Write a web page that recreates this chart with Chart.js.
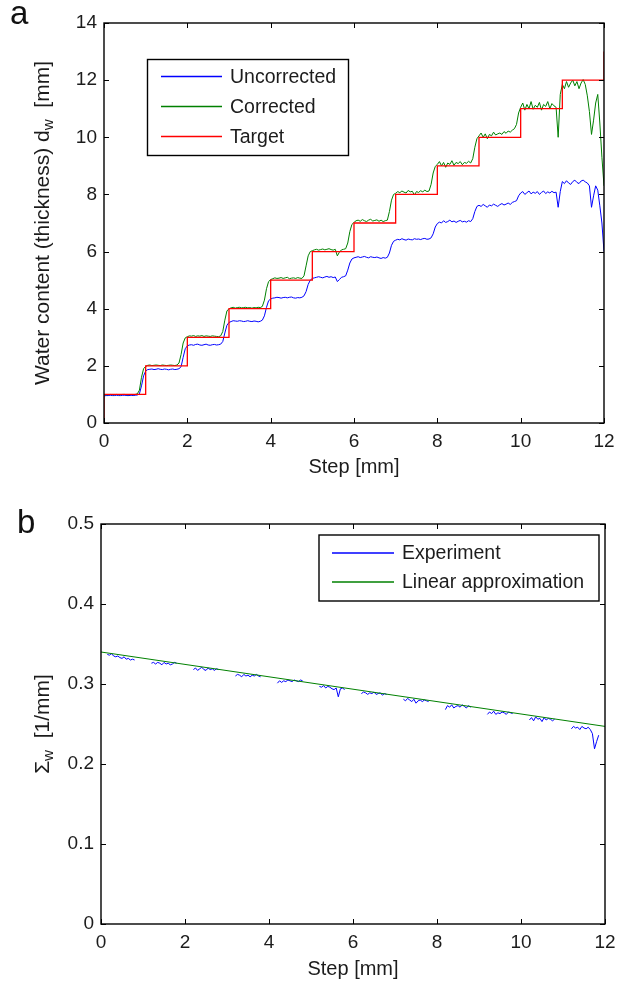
<!DOCTYPE html>
<html>
<head>
<meta charset="utf-8">
<title>Water content and attenuation vs step</title>
<script src="https://cdn.jsdelivr.net/npm/chart.js@4.4.1/dist/chart.umd.min.js"></script>
<style>
  body { margin: 0; background: #fff; }
  #wrap { position: relative; width: 639px; height: 981px; }
  canvas { position: absolute; left: 0; }
  #thicknessChart { top: 0; }
  #sigmaChart { top: 490px; }
</style>
</head>
<body>
<div id="wrap">
  <canvas id="thicknessChart" width="639" height="490"></canvas>
  <canvas id="sigmaChart" width="639" height="491"></canvas>
</div>
<script>
const FONT = '"Liberation Sans", Arial, Helvetica, sans-serif';
const TEXT = "#1c1c1c";

// sample positions along the step axis [mm], shared by the measured curves
const stepMm = [
  0,0.05,0.1,0.15,0.2,0.25,0.3,0.35,0.4,0.45,0.5,0.55,0.6,0.65,0.7,0.75,0.8,0.85,0.9,0.95,
  1,1.05,1.1,1.15,1.2,1.25,1.3,1.35,1.4,1.45,1.5,1.55,1.6,1.65,1.7,1.75,1.8,1.85,1.9,1.95,
  2,2.05,2.1,2.15,2.2,2.25,2.3,2.35,2.4,2.45,2.5,2.55,2.6,2.65,2.7,2.75,2.8,2.85,2.9,2.95,
  3,3.05,3.1,3.15,3.2,3.25,3.3,3.35,3.4,3.45,3.5,3.55,3.6,3.65,3.7,3.75,3.8,3.85,3.9,3.95,
  4,4.05,4.1,4.15,4.2,4.25,4.3,4.35,4.4,4.45,4.5,4.55,4.6,4.65,4.7,4.75,4.8,4.85,4.9,4.95,
  5,5.05,5.1,5.15,5.2,5.25,5.3,5.35,5.4,5.45,5.5,5.55,5.6,5.65,5.7,5.75,5.8,5.85,5.9,5.95,
  6,6.05,6.1,6.15,6.2,6.25,6.3,6.35,6.4,6.45,6.5,6.55,6.6,6.65,6.7,6.75,6.8,6.85,6.9,6.95,
  7,7.05,7.1,7.15,7.2,7.25,7.3,7.35,7.4,7.45,7.5,7.55,7.6,7.65,7.7,7.75,7.8,7.85,7.9,7.95,
  8,8.05,8.1,8.15,8.2,8.25,8.3,8.35,8.4,8.45,8.5,8.55,8.6,8.65,8.7,8.75,8.8,8.85,8.9,8.95,
  9,9.05,9.1,9.15,9.2,9.25,9.3,9.35,9.4,9.45,9.5,9.55,9.6,9.65,9.7,9.75,9.8,9.85,9.9,9.95,
  10,10.05,10.1,10.15,10.2,10.25,10.3,10.35,10.4,10.45,10.5,10.55,10.6,10.65,10.7,10.75,10.8,10.85,10.9,10.95,
  11,11.05,11.1,11.15,11.2,11.25,11.3,11.35,11.4,11.45,11.5,11.55,11.6,11.65,11.7,11.75,11.8,11.85,11.9,11.95,
  12
];

// water thickness d_w [mm]
const uncorrected = [
  0.95,0.96,0.96,0.97,0.96,0.96,0.97,0.96,0.96,0.97,0.97,0.96,0.96,0.97,0.96,0.97,0.98,1.02,1.3,1.65,
  1.82,1.87,1.88,1.89,1.87,1.88,1.9,1.88,1.87,1.89,1.88,1.86,1.88,1.89,1.87,1.88,1.9,1.97,2.3,2.6,
  2.7,2.73,2.74,2.72,2.75,2.76,2.73,2.72,2.74,2.76,2.73,2.72,2.74,2.75,2.73,2.74,2.76,2.85,3.15,3.42,
  3.52,3.55,3.58,3.57,3.56,3.58,3.57,3.55,3.56,3.58,3.56,3.55,3.57,3.56,3.54,3.56,3.6,3.75,4.05,4.28,
  4.34,4.37,4.38,4.4,4.39,4.37,4.39,4.4,4.38,4.4,4.41,4.38,4.37,4.39,4.38,4.4,4.45,4.6,4.85,5.0,
  5.06,5.08,5.1,5.12,5.1,5.08,5.11,5.13,5.1,5.12,5.09,5.11,4.95,5.02,5.1,5.12,5.15,5.35,5.6,5.74,
  5.78,5.8,5.82,5.79,5.81,5.83,5.8,5.78,5.82,5.8,5.79,5.81,5.78,5.76,5.79,5.77,5.8,5.95,6.22,6.36,
  6.4,6.43,6.41,6.45,6.42,6.4,6.44,6.42,6.41,6.45,6.43,6.44,6.42,6.45,6.46,6.43,6.44,6.48,6.62,6.86,
  6.98,7.03,7.0,7.08,7.02,7.05,7.1,7.04,7.07,7.02,7.06,7.09,7.04,7.06,7.03,7.08,7.05,7.15,7.4,7.58,
  7.62,7.58,7.65,7.6,7.55,7.63,7.6,7.66,7.62,7.58,7.64,7.68,7.63,7.66,7.7,7.65,7.72,7.75,7.78,7.95,
  8.05,8.1,8.0,8.06,8.12,8.02,8.08,8.04,8.1,8.0,8.07,8.12,8.03,8.09,8.05,8.11,8.06,8.08,7.55,8.1,
  8.45,8.38,8.48,8.4,8.35,8.45,8.5,8.42,8.38,8.47,8.5,8.44,8.4,8.3,7.55,7.95,8.3,8.15,7.6,7.0,
  6.0
];
const corrected = [
  0.98,0.99,0.99,1.0,0.99,0.99,1.0,0.99,0.99,1.0,1.0,0.99,0.99,1.0,0.99,1.0,1.02,1.15,1.6,1.9,
  1.98,2.02,2.03,2.01,2.02,2.03,2.02,2.01,2.03,2.02,2.01,2.02,2.03,2.02,2.01,2.03,2.1,2.4,2.8,2.98,
  3.02,3.05,3.04,3.06,3.03,3.05,3.04,3.06,3.03,3.05,3.04,3.03,3.05,3.04,3.03,3.02,3.05,3.2,3.6,3.92,
  4.0,4.03,4.05,4.02,4.04,4.05,4.03,4.04,4.05,4.03,4.04,4.02,4.04,4.03,4.05,4.04,4.08,4.3,4.7,4.95,
  5.02,5.05,5.08,5.06,5.07,5.09,5.06,5.08,5.1,5.05,5.07,5.08,5.06,5.09,5.07,5.06,5.15,5.5,5.85,6.0,
  6.03,6.06,6.08,6.05,6.07,6.09,6.06,6.08,6.1,6.07,6.05,6.08,5.85,5.98,6.06,6.08,6.1,6.3,6.7,6.95,
  7.02,7.08,7.1,7.06,7.12,7.08,7.05,7.1,7.13,7.07,7.09,7.11,7.06,7.1,7.05,7.08,7.1,7.4,7.8,8.0,
  8.04,8.1,8.06,8.12,8.08,8.05,8.14,8.09,8.11,7.98,8.1,8.07,8.13,8.09,8.15,8.1,8.12,8.35,8.75,8.98,
  9.05,9.15,9.0,9.12,8.95,9.1,9.05,9.18,9.02,9.12,9.08,9.15,9.04,9.12,9.09,9.16,9.1,9.25,9.65,9.95,
  10.05,10.15,10.0,10.12,9.95,10.1,10.05,10.18,10.08,10.12,10.15,10.1,10.2,10.14,10.22,10.18,10.25,10.3,10.45,10.85,
  11.05,11.2,10.95,11.15,11.0,11.25,10.98,11.12,11.05,11.22,10.95,11.15,11.08,11.25,11.0,11.18,11.1,11.05,10.0,11.5,
  11.85,11.7,11.95,11.75,11.9,12.0,11.8,11.95,11.7,11.9,12.02,11.85,11.45,10.9,10.1,10.6,11.2,11.5,10.5,9.3,
  8.3
];
// target thickness: value k+1 on [k, k+1)
const targetX = [0, 0, 1, 2, 3, 4, 5, 6, 7, 8, 9, 10, 11, 12];
const targetY = [0, 1, 2, 3, 4, 5, 6, 7, 8, 9, 10, 11, 12, 13];

// macroscopic cross section Sigma_w [1/mm], measured only on the plateaus
const sigmaExperiment = [
  null,null,null,0.337,0.336,0.338,0.335,0.334,0.335,0.333,0.332,0.334,0.331,0.332,0.33,0.331,0.33,null,null,null,
  null,null,null,null,0.326,0.327,0.325,0.327,0.326,0.324,0.327,0.325,0.326,0.324,0.325,0.327,0.326,null,null,null,
  null,null,null,null,0.318,0.32,0.317,0.319,0.321,0.318,0.317,0.32,0.318,0.319,0.317,0.319,0.318,null,null,null,
  null,null,null,null,0.31,0.312,0.311,0.309,0.312,0.31,0.311,0.309,0.311,0.31,0.312,0.31,0.309,null,null,null,
  null,null,null,null,0.301,0.304,0.302,0.304,0.303,0.305,0.304,0.303,0.305,0.304,0.303,0.305,0.304,null,null,null,
  null,null,null,null,0.297,0.296,0.298,0.295,0.297,0.296,0.294,0.293,0.295,0.284,0.294,0.295,0.293,null,null,null,
  null,null,null,null,0.288,0.29,0.289,0.287,0.289,0.288,0.29,0.287,0.288,0.289,0.286,0.288,0.287,null,null,null,
  null,null,null,null,0.281,0.279,0.282,0.28,0.278,0.281,0.276,0.279,0.28,0.278,0.28,0.279,0.278,null,null,null,
  null,null,null,null,0.268,0.273,0.271,0.274,0.27,0.272,0.273,0.271,0.274,0.272,0.27,0.273,0.271,null,null,null,
  null,null,null,null,0.262,0.265,0.263,0.266,0.262,0.264,0.263,0.265,0.264,0.262,0.265,0.264,0.263,null,null,null,
  null,null,null,null,0.255,0.258,0.254,0.259,0.256,0.257,0.253,0.258,0.255,0.257,0.256,0.254,0.256,null,null,null,
  null,null,null,null,0.244,0.247,0.245,0.246,0.243,0.247,0.245,0.244,0.246,0.243,0.238,0.219,0.228,0.236,null,null,
  null
];
const linearX = [0, 12];
const linearY = [0.34, 0.247];

// tick values
const stepTicks = [0, 2, 4, 6, 8, 10, 12];
const thicknessTicks = [0, 2, 4, 6, 8, 10, 12, 14];
const sigmaTicks = [0, 0.1, 0.2, 0.3, 0.4, 0.5];

const pairs = (xs, ys) => xs.map((x, i) => ({ x: x, y: ys[i] }));

function line(label, color, data, order, extra) {
  return Object.assign({
    label: label, data: data, borderColor: color, backgroundColor: color,
    borderWidth: 1, pointRadius: 0, tension: 0, fill: false, order: order
  }, extra || {});
}

function axes(yTicks, yMax, yWidth, xHeight) {
  const tickFont = { family: FONT, size: 19 };
  return {
    x: {
      type: "linear", min: 0, max: 12,
      afterBuildTicks: s => { s.ticks = stepTicks.map(v => ({ value: v })); },
      afterFit: s => { s.height = xHeight; s.paddingLeft = 0; s.paddingRight = 0; },
      grid: { display: false, drawTicks: false },
      border: { display: false },
      ticks: { color: TEXT, font: tickFont, padding: 7, maxRotation: 0, callback: v => String(v) }
    },
    y: {
      type: "linear", min: 0, max: yMax,
      afterBuildTicks: s => { s.ticks = yTicks.map(v => ({ value: v })); },
      afterFit: s => { s.width = yWidth; s.paddingTop = 0; s.paddingBottom = 0; },
      grid: { display: false, drawTicks: false },
      border: { display: false },
      ticks: { color: TEXT, font: tickFont, padding: 7, callback: v => String(v) }
    }
  };
}

// draws the rotated y title piece by piece so the subscript can drop down
function rotatedTitle(ctx, cx, cy, parts, size) {
  ctx.save();
  ctx.translate(cx, cy);
  ctx.rotate(-Math.PI / 2);
  ctx.textBaseline = "middle";
  ctx.textAlign = "left";
  ctx.fillStyle = TEXT;
  let total = 0;
  parts.forEach(p => {
    ctx.font = `${p.sub ? size * 0.72 : size}px ${FONT}`;
    p.w = ctx.measureText(p.text).width;
    total += p.w;
  });
  let x = -total / 2;
  parts.forEach(p => {
    ctx.font = `${p.sub ? size * 0.72 : size}px ${FONT}`;
    ctx.fillText(p.text, x, p.sub ? size * 0.3 : 0);
    x += p.w;
  });
  ctx.restore();
}

// MATLAB-like frame: closed box, inward ticks, boxed legend, titles, panel letter
function framePlugin(opts) {
  return {
    id: "frame",
    afterDraw(chart) {
      const { ctx, chartArea: a, scales } = chart;
      ctx.save();
      ctx.strokeStyle = "#000";
      ctx.lineWidth = 1;
      ctx.beginPath();
      scales.x.ticks.forEach(t => {
        const px = Math.round(scales.x.getPixelForValue(t.value)) + 0.5;
        ctx.moveTo(px, a.bottom); ctx.lineTo(px, a.bottom - 5);
        ctx.moveTo(px, a.top); ctx.lineTo(px, a.top + 5);
      });
      scales.y.ticks.forEach(t => {
        const py = Math.round(scales.y.getPixelForValue(t.value)) + 0.5;
        ctx.moveTo(a.left, py); ctx.lineTo(a.left + 5, py);
        ctx.moveTo(a.right, py); ctx.lineTo(a.right - 5, py);
      });
      ctx.stroke();
      ctx.lineWidth = 1.4;
      ctx.strokeRect(a.left, a.top, a.right - a.left, a.bottom - a.top);

      const L = opts.legend;
      ctx.fillStyle = "#fff";
      ctx.fillRect(L.x, L.y, L.w, L.h);
      ctx.lineWidth = 1.4;
      ctx.strokeStyle = "#000";
      ctx.strokeRect(L.x, L.y, L.w, L.h);
      ctx.font = `19.5px ${FONT}`;
      ctx.textBaseline = "middle";
      ctx.textAlign = "left";
      L.items.forEach((idx, i) => {
        const ds = chart.data.datasets[idx];
        const y = L.rows[i];
        ctx.strokeStyle = ds.borderColor;
        ctx.lineWidth = 1.5;
        ctx.beginPath();
        ctx.moveTo(L.lineFrom, y);
        ctx.lineTo(L.lineTo, y);
        ctx.stroke();
        ctx.fillStyle = TEXT;
        ctx.fillText(ds.label, L.textX, y + 1);
      });

      ctx.fillStyle = TEXT;
      ctx.font = `20px ${FONT}`;
      ctx.textAlign = "center";
      ctx.textBaseline = "middle";
      ctx.fillText(opts.xTitle, (a.left + a.right) / 2, opts.xTitleY);
      rotatedTitle(ctx, opts.yTitleX, (a.top + a.bottom) / 2, opts.yTitle, 21);

      ctx.font = `33px ${FONT}`;
      ctx.textAlign = "left";
      ctx.textBaseline = "alphabetic";
      ctx.fillStyle = "#111";
      ctx.fillText(opts.letter, opts.letterX, opts.letterY);
      ctx.restore();
    }
  };
}

const common = {
  responsive: false,
  animation: false,
  devicePixelRatio: 1,
  plugins: { legend: { display: false }, tooltip: { enabled: false } }
};

new Chart(document.getElementById("thicknessChart"), {
  type: "line",
  data: {
    datasets: [
      line("Uncorrected", "#0000ff", pairs(stepMm, uncorrected), 3),
      line("Corrected", "#008000", pairs(stepMm, corrected), 2),
      line("Target", "#ff0000", pairs(targetX, targetY), 1, { stepped: "before", borderWidth: 1.3 })
    ]
  },
  options: Object.assign({}, common, {
    layout: { padding: { left: 0, right: 35, top: 23, bottom: 0 } },
    scales: axes(thicknessTicks, 14, 104, 67)
  }),
  plugins: [framePlugin({
    legend: { x: 147.5, y: 59.5, w: 201, h: 96, rows: [76.5, 106.5, 136.5], lineFrom: 161, lineTo: 222, textX: 230, items: [0, 1, 2] },
    xTitle: "Step [mm]", xTitleY: 467,
    yTitleX: 43,
    yTitle: [{ text: "Water content (thickness) d" }, { text: "w", sub: true }, { text: "  [mm]" }],
    letter: "a", letterX: 10, letterY: 24
  })]
});

new Chart(document.getElementById("sigmaChart"), {
  type: "line",
  data: {
    datasets: [
      line("Experiment", "#0000ff", pairs(stepMm, sigmaExperiment), 2, { spanGaps: false }),
      line("Linear approximation", "#008000", pairs(linearX, linearY), 1)
    ]
  },
  options: Object.assign({}, common, {
    layout: { padding: { left: 0, right: 34, top: 34, bottom: 0 } },
    scales: axes(sigmaTicks, 0.5, 101, 57)
  }),
  plugins: [framePlugin({
    legend: { x: 319, y: 45, w: 280, h: 66, rows: [63, 92], lineFrom: 332, lineTo: 394, textX: 402, items: [0, 1] },
    xTitle: "Step [mm]", xTitleY: 479,
    yTitleX: 43,
    yTitle: [{ text: "Σ" }, { text: "w", sub: true }, { text: "  [1/mm]" }],
    letter: "b", letterX: 17, letterY: 43
  })]
});
</script>
</body>
</html>
